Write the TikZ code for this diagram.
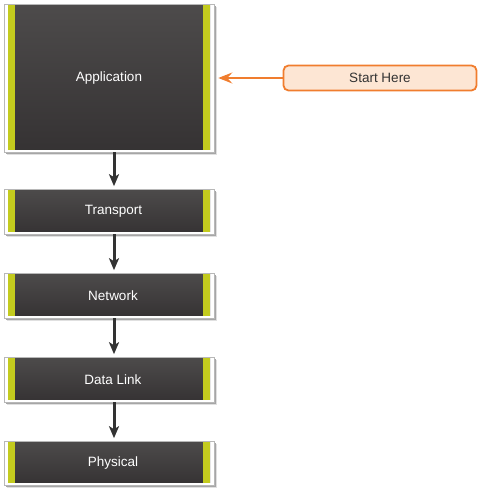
\documentclass[tikz,border=0pt]{standalone}
\usepackage{fontspec}
\setmainfont{Liberation Sans}
\usetikzlibrary{arrows.meta}
\definecolor{lime}{HTML}{C3CB1E}
\definecolor{darktop}{HTML}{4D4B4B}
\definecolor{darkbot}{HTML}{353233}
\definecolor{framegray}{HTML}{B8B8B8}
\definecolor{orangeline}{HTML}{F07D2E}
\definecolor{orangefill}{HTML}{FDE6D4}
\definecolor{arrowgray}{HTML}{333333}
\definecolor{txtgray}{HTML}{333333}
\tikzset{
  layerbox/.style={rectangle, fill=white, draw=framegray, line width=0.6pt,
    minimum width=210pt, inner sep=0pt, text=white,
    font=\fontsize{13.5}{15}\selectfont,
    preaction={fill=black!12, transform canvas={xshift=2.6pt,yshift=-2.8pt}},
    preaction={fill=black!35, transform canvas={xshift=1.5pt,yshift=-1.7pt}},
    path picture={
      \shade[top color=darktop,bottom color=darkbot]
        ([xshift=4pt,yshift=-1.2pt]path picture bounding box.north west)
        rectangle ([xshift=-4pt,yshift=2.2pt]path picture bounding box.south east);
      \fill[lime]
        ([xshift=4pt,yshift=-1.2pt]path picture bounding box.north west)
        rectangle ([xshift=11pt,yshift=2.2pt]path picture bounding box.south west);
      \fill[lime]
        ([xshift=-11pt,yshift=-1.2pt]path picture bounding box.north east)
        rectangle ([xshift=-4pt,yshift=2.2pt]path picture bounding box.south east);
    }},
  conn/.style={draw=arrowgray, line width=3pt, shorten >=2.5pt,
    -{Stealth[length=12pt,width=10pt,inset=3pt]}},
  startbox/.style={rectangle, rounded corners=5pt, draw=orangeline, fill=orangefill,
    line width=1.8pt, minimum width=193pt, minimum height=25pt, inner sep=0pt,
    text=txtgray, font=\fontsize{13.5}{15}\selectfont},
  startarrow/.style={draw=orangeline, line width=2.4pt, shorten >=4pt,
    -{Stealth[length=14pt,width=11pt,inset=5pt]}}
}
\begin{document}
\begin{tikzpicture}[x=1pt,y=-1pt]
\useasboundingbox (0,0) rectangle (484,494);
\node[layerbox, minimum height=148pt] (app) at (109,78) {Application};
\node[layerbox, minimum height=45pt] (trans) at (109,211.5) {\hspace*{9pt}Transport};
\node[layerbox, minimum height=45pt] (net) at (109,295.5) {\hspace*{8pt}Network};
\node[layerbox, minimum height=45pt] (dl) at (109,379.5) {\hspace*{8pt}Data Link};
\node[layerbox, minimum height=44pt] (phy) at (109,463) {\hspace*{8pt}Physical};
\draw[conn] ([xshift=5pt]app.south) -- ([xshift=5pt]trans.north);
\draw[conn] ([xshift=5pt]trans.south) -- ([xshift=5pt]net.north);
\draw[conn] ([xshift=5pt]net.south) -- ([xshift=5pt]dl.north);
\draw[conn] ([xshift=5pt]dl.south) -- ([xshift=5pt]phy.north);
\node[startbox] (start) at (380,78) {Start Here};
\draw[startarrow] (start.west) -- (app.east);
\end{tikzpicture}
\end{document}
